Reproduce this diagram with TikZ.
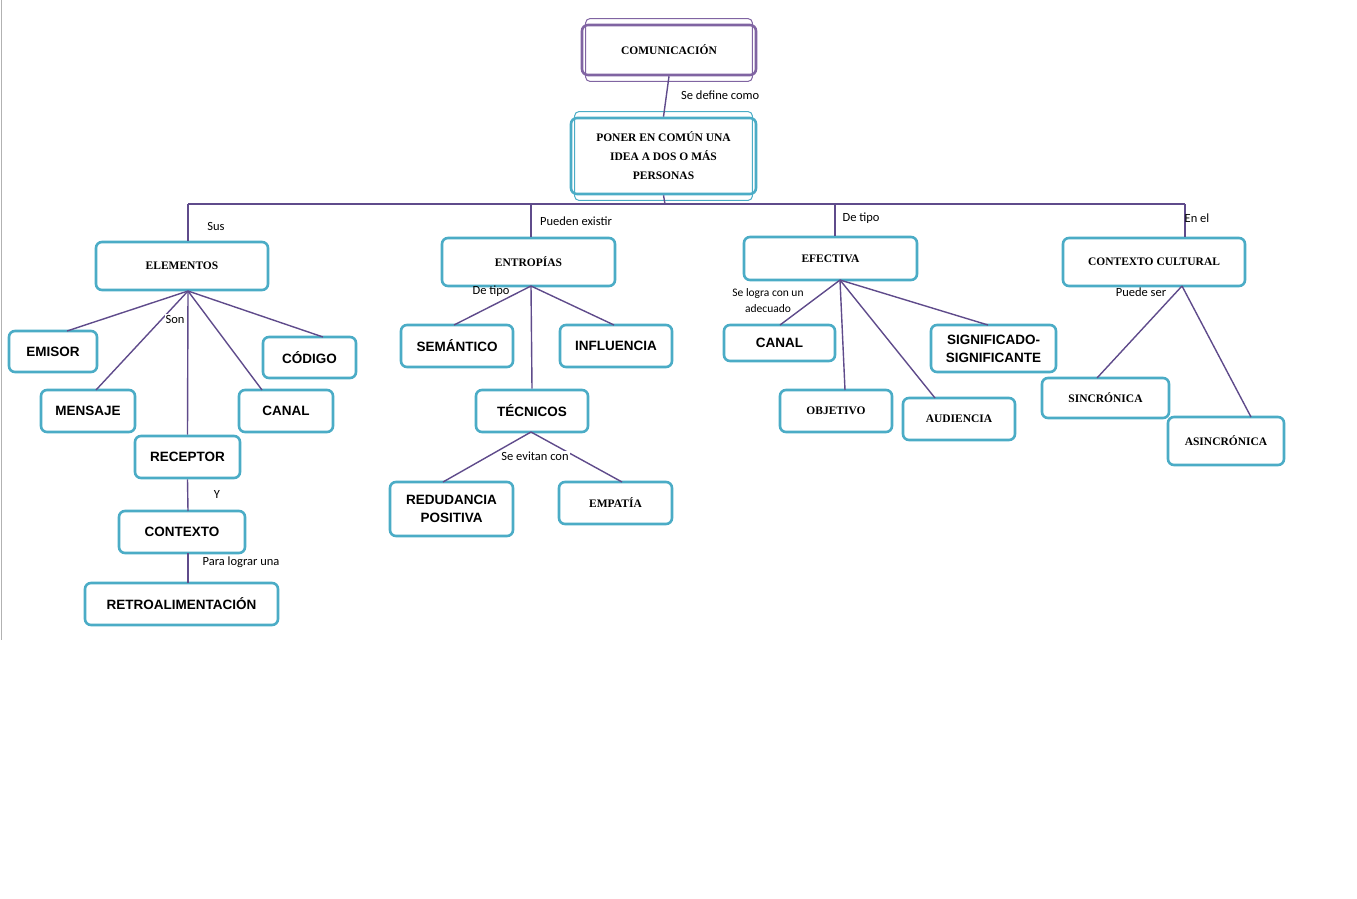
\documentclass[tikz,border=0pt]{standalone}
\usepackage{fontspec}
\setmainfont{Liberation Sans}
\newfontfamily\labfont{Carlito}
\newfontfamily\decofont{Liberation Serif}
\begin{document}
\begin{tikzpicture}[x=1pt,y=-1pt,
  box/.style={draw=boxc,line width=2.6pt,rounded corners=6pt,fill=white,align=center,inner sep=0pt,font=\fontsize{13.5}{16}\selectfont\bfseries},
  deco/.style={font=\decofont\fontsize{11.5}{19}\selectfont\bfseries},
  ln/.style={draw=linec,line width=1.4pt},
  lab/.style={font=\labfont\fontsize{12.5}{14}\selectfont,inner sep=0pt}]
\definecolor{boxc}{HTML}{4BACC6}
\definecolor{linec}{HTML}{5F4B8B}
\definecolor{purp}{HTML}{8064A2}
\useasboundingbox (0,0) rectangle (1357,899);
\draw[gray!60,line width=1pt] (1,0) -- (1,640);
\newcommand\bx[6]{\node[box,#6,minimum width=#4-#2,minimum height=#5-#3] (#1) at ({(#2+#4)/2},{(#3+#5)/2}) {};}
% top boxes
\node[box,draw=purp,minimum width=174,minimum height=50,deco] (com) at (669,50) {COMUNICACIÓN};
\draw[purp,line width=1pt,rounded corners=4pt] ([shift={(5,-5)}]com.north west) rectangle ([shift={(-5,5)}]com.south east);
\node[box,minimum width=185,minimum height=76,deco] (pon) at (663.5,156) {PONER EN COMÚN UNA\\IDEA A DOS O MÁS\\PERSONAS};
\draw[boxc,line width=1pt,rounded corners=4pt] ([shift={(5,-5)}]pon.north west) rectangle ([shift={(-5,5)}]pon.south east);
% level boxes
\node[box,deco,minimum width=172,minimum height=48] (ele) at (182,266) {ELEMENTOS};
\node[box,minimum width=88,minimum height=41] (emi) at (53,351.5) {EMISOR};
\node[box,minimum width=94,minimum height=42] (men) at (88,411) {MENSAJE};
\node[box,minimum width=105,minimum height=42] (rec) at (187.5,457) {RECEPTOR};
\node[box,minimum width=93,minimum height=41] (cod) at (309.5,357.5) {CÓDIGO};
\node[box,minimum width=94,minimum height=42] (can) at (286,411) {CANAL};
\node[box,minimum width=126,minimum height=42] (ctx) at (182,532) {CONTEXTO};
\node[box,minimum width=193,minimum height=42] (ret) at (181.5,604) {RETROALIMENTACIÓN};
\node[box,deco,minimum width=173,minimum height=48] (ent) at (528.5,262) {ENTROPÍAS};
\node[box,minimum width=112,minimum height=42] (sem) at (457,346) {SEMÁNTICO};
\node[box,minimum width=112,minimum height=42] (inf) at (616,346) {INFLUENCIA};
\node[box,minimum width=112,minimum height=42] (tec) at (532,411) {TÉCNICOS};
\node[box,minimum width=123,minimum height=54,font=\fontsize{13.5}{18}\selectfont\bfseries] (red) at (451.5,509) {REDUDANCIA\\POSITIVA};
\node[box,deco,minimum width=113,minimum height=42] (emp) at (615.5,503) {EMPATÍA};
\node[box,deco,minimum width=173,minimum height=43] (efe) at (830.5,258.5) {EFECTIVA};
\node[box,minimum width=111,minimum height=36] (can2) at (779.5,343) {CANAL};
\node[box,deco,minimum width=112,minimum height=42] (obj) at (836,411) {OBJETIVO};
\node[box,deco,minimum width=112,minimum height=42] (aud) at (959,419) {AUDIENCIA};
\node[box,minimum width=125,minimum height=47,font=\fontsize{13.5}{18}\selectfont\bfseries] (sig) at (993.5,348.5) {SIGNIFICADO-\\SIGNIFICANTE};
\node[box,deco,minimum width=182,minimum height=48] (cc) at (1154,262) {CONTEXTO CULTURAL};
\node[box,deco,minimum width=127,minimum height=40] (sin) at (1105.5,398) {SINCRÓNICA};
\node[box,deco,minimum width=116,minimum height=48] (asi) at (1226,441) {ASINCRÓNICA};
% connectors
\draw[ln] (com.south) -- (pon.north);
\node[lab,anchor=west] (l1) at (681,95) {Se define como};
\coordinate (h0) at (665,204);
\coordinate (h1) at (188,204);
\coordinate (h2) at (531,204);
\coordinate (h3) at (835,204);
\coordinate (h4) at (1185,204);
\draw[ln] (pon.south) -- (h0);
\draw[ln] (h1) -- (h4);
\draw[ln] (h1) -- (h1|-ele.north);
\draw[ln] (h2) -- (h2|-ent.north);
\draw[ln] (h3) -- (h3|-efe.north);
\draw[ln] (h4) -- (h4|-cc.north);
\node[lab] (l2) at (216,226) {Sus};
\node[lab] (l3) at (576,221) {Pueden existir};
\node[lab] (l4) at (861,218) {De tipo};
\node[lab] (l5) at (1197,218) {En el};
% elementos
\coordinate (ehub) at (188,291);
\draw[ln] (ehub) -- (67,331);
\draw[ln] (ehub) -- (96,390);
\draw[ln] (ehub) -- (rec.north);
\draw[ln] (ehub) -- (262,390);
\draw[ln] (ehub) -- (323,337);
\node[lab,fill=white,inner sep=1pt] (l6) at (175,319) {Son};
\draw[ln] (rec.south) -- (188,511);
\draw[ln] (188,553) -- (188,583);
\node[lab] (l7) at (217,494) {Y};
\node[lab] (l8) at (241,562) {Para lograr una};
% entropias
\coordinate (nhub) at (531,286);
\draw[ln] (nhub) -- (454,325);
\draw[ln] (nhub) -- (tec.north);
\draw[ln] (nhub) -- (614,325);
\node[lab] (l9) at (491,291) {De tipo};
\coordinate (thub) at (531,432);
\draw[ln] (thub) -- (443,482);
\draw[ln] (thub) -- (622,482);
\node[lab,fill=white,inner sep=1pt] (l10) at (535,456) {Se evitan con};
% efectiva
\coordinate (fhub) at (840,280);
\draw[ln] (fhub) -- (780,325);
\draw[ln] (fhub) -- (845,390);
\draw[ln] (fhub) -- (935,398);
\draw[ln] (fhub) -- (988,325);
\node[lab,align=center,font=\labfont\fontsize{11.5}{16}\selectfont] (l11) at (768,301) {Se logra con un\\adecuado};
% contexto cultural
\coordinate (chub) at (1182,286);
\draw[ln] (chub) -- (1097,378);
\draw[ln] (chub) -- (1251,417);
\node[lab] (l12) at (1141,292) {Puede ser};
\end{tikzpicture}
\end{document}
